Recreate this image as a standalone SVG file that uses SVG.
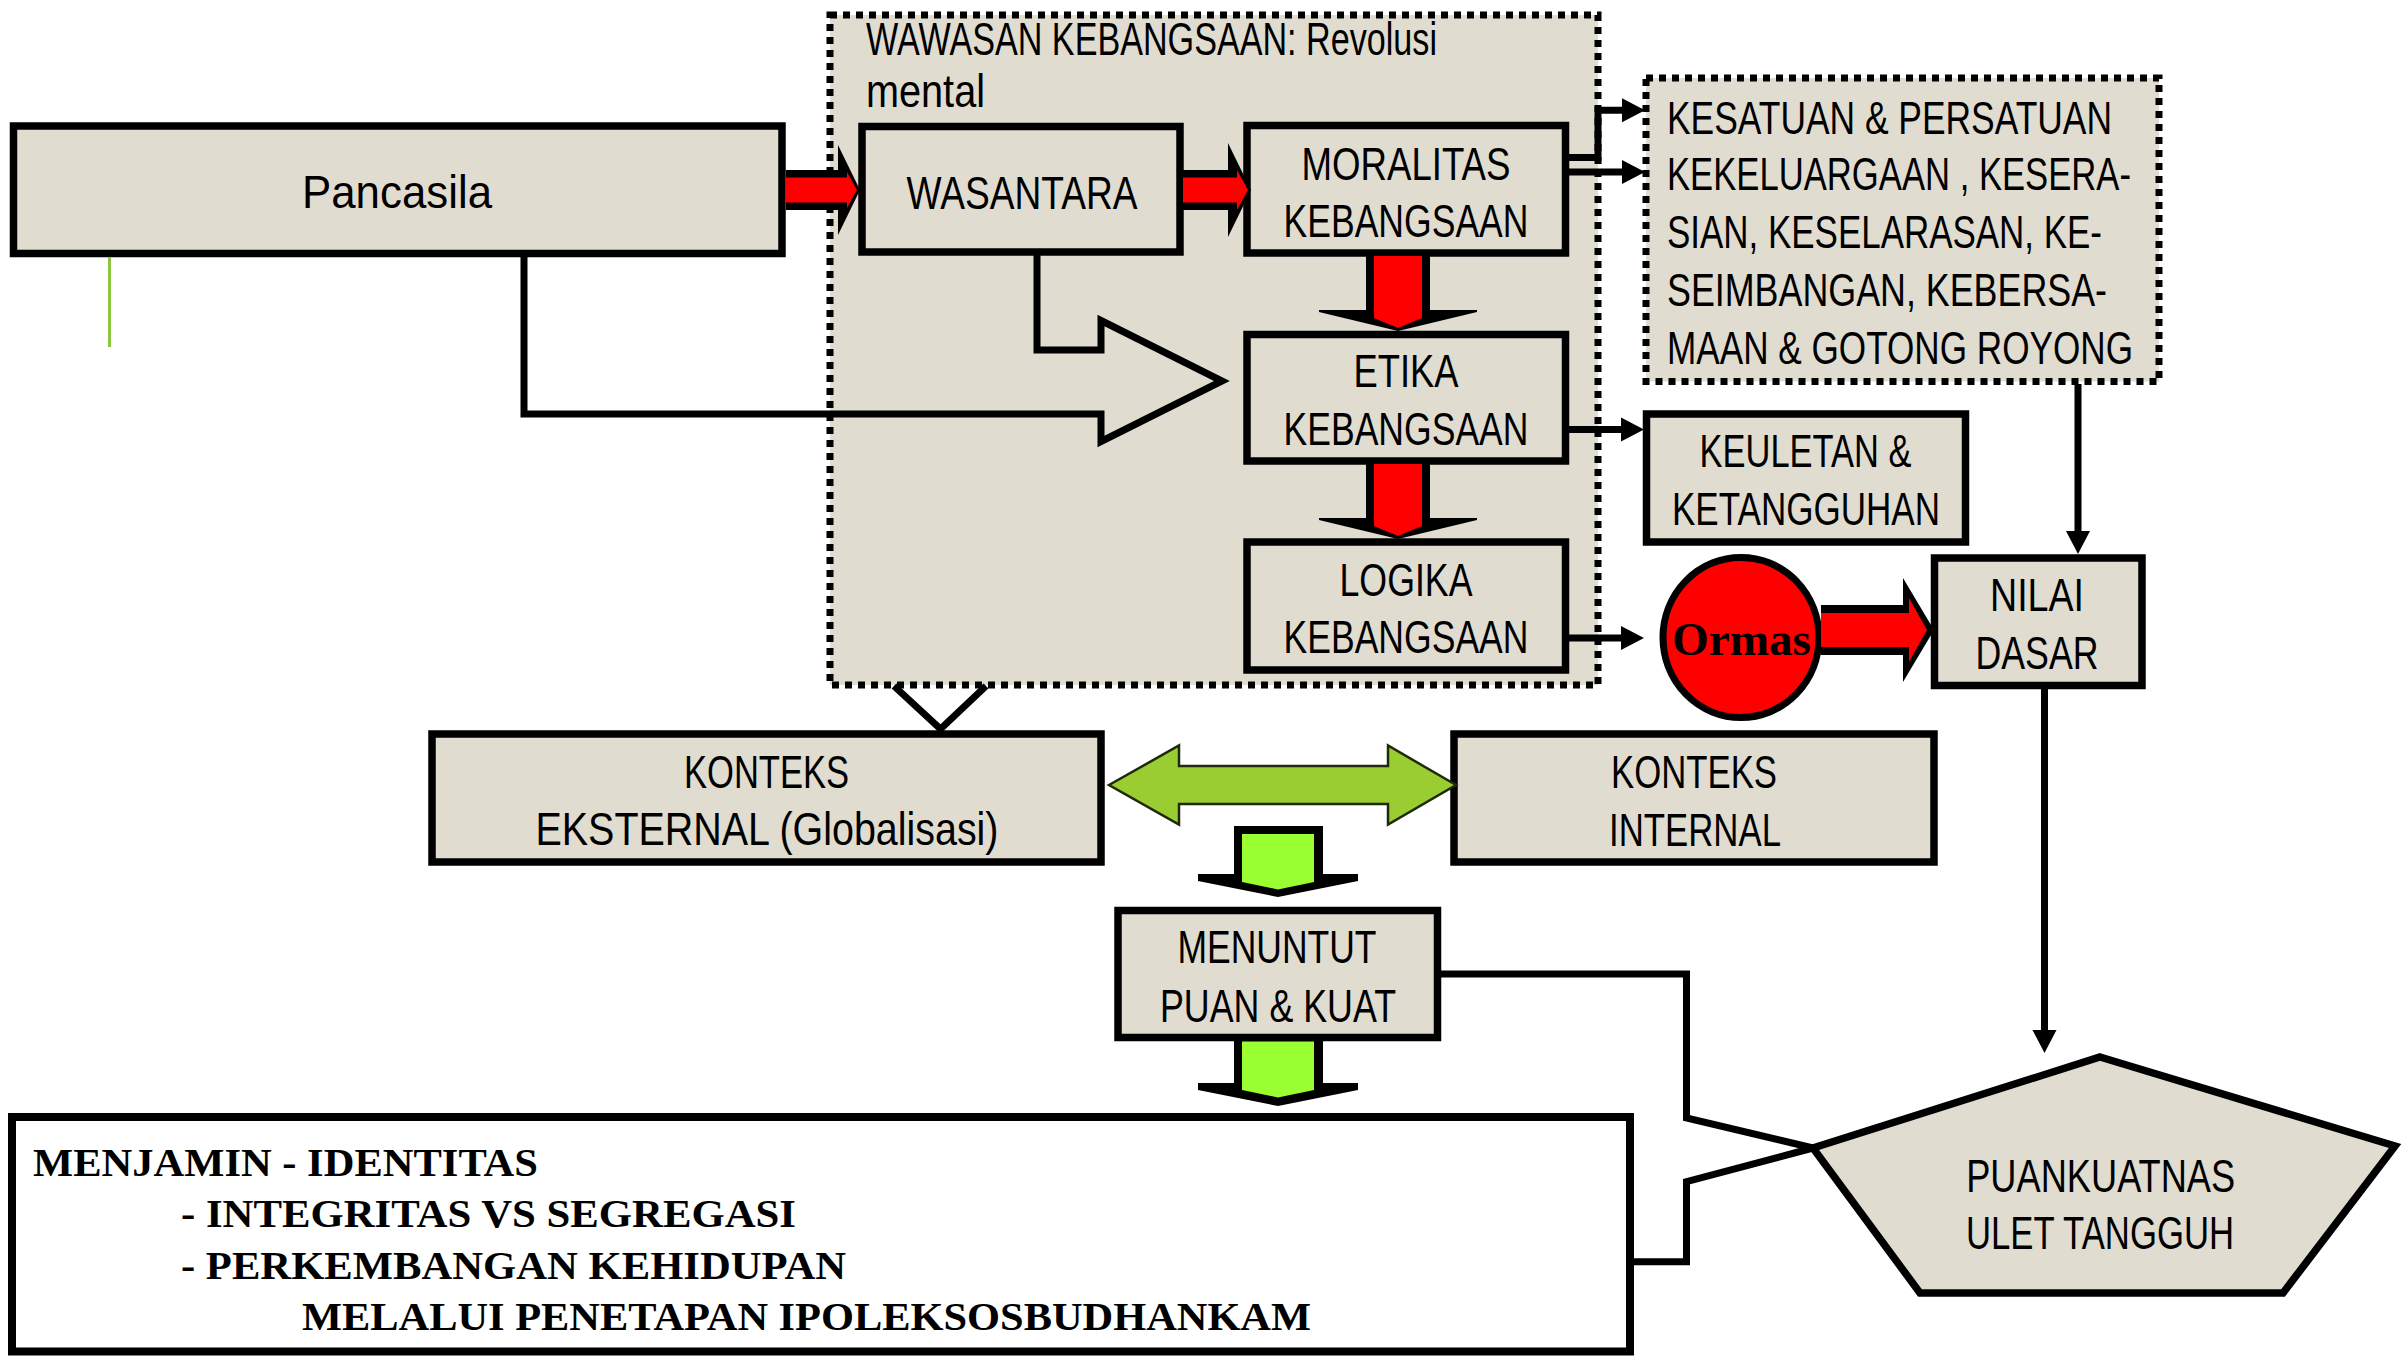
<svg xmlns="http://www.w3.org/2000/svg" width="2408" height="1357" viewBox="0 0 2408 1357">
  <defs>
    <style>
      .box { fill: #E1DCD0; stroke: #000; stroke-width: 7.5; }
      .dot { fill: #E1DCD0; stroke: #000; stroke-width: 7; stroke-dasharray: 7 6; }
      .plain { fill: #FFFFFF; stroke: #000; stroke-width: 8; }
      .lbl { font-family: "Liberation Sans", Arial, sans-serif; font-size: 46px; fill: #000; text-anchor: middle; }
      .lbl-l { font-family: "Liberation Sans", Arial, sans-serif; font-size: 46px; fill: #000; text-anchor: start; }
      .ser { font-family: "Liberation Serif", "Times New Roman", serif; font-weight: bold; fill: #000; }
      .ln { fill: none; stroke: #000; stroke-width: 7; stroke-linejoin: miter; }
      .lna { fill: none; stroke: #000; stroke-width: 7; marker-end: url(#head); }
      .blk { fill: #000; }
      .red { fill: #FF0000; }
      .lime { fill: #99FF33; }
    </style>
    <marker id="head" markerUnits="userSpaceOnUse" markerWidth="24" markerHeight="26" viewBox="0 -13 24 26" refX="0" refY="0" orient="auto" overflow="visible">
      <path d="M0,-12 L23,0 L0,12 Z" fill="#000"/>
    </marker>
  </defs>

  <rect width="2408" height="1357" fill="#FFFFFF"/>

  <!-- national outlook frame -->
  <g id="wawasan">
    <rect class="dot" x="830" y="15" width="768" height="670"/>
    <text class="lbl-l" x="866" y="55" font-size="40" textLength="571" lengthAdjust="spacingAndGlyphs">WAWASAN KEBANGSAAN: Revolusi</text>
    <text class="lbl-l" x="866" y="106.5" font-size="40" textLength="119" lengthAdjust="spacingAndGlyphs">mental</text>
  </g>

  <g id="pancasila">
    <rect class="box" x="13.5" y="126" width="768.5" height="127.5"/>
    <text class="lbl" x="397" y="208" textLength="190" lengthAdjust="spacingAndGlyphs">Pancasila</text>
  </g>

  <g id="wasantara">
    <rect class="box" x="862" y="126.5" width="318" height="125.5"/>
    <text class="lbl" x="1022" y="209" textLength="231" lengthAdjust="spacingAndGlyphs">WASANTARA</text>
  </g>

  <g id="moralitas">
    <rect class="box" x="1247" y="125.5" width="318.5" height="127.5"/>
    <text class="lbl" x="1406" y="180" textLength="209" lengthAdjust="spacingAndGlyphs">MORALITAS</text>
    <text class="lbl" x="1406" y="237" textLength="245" lengthAdjust="spacingAndGlyphs">KEBANGSAAN</text>
  </g>

  <g id="etika">
    <rect class="box" x="1247" y="334.5" width="318.5" height="126.5"/>
    <text class="lbl" x="1406" y="387" textLength="105" lengthAdjust="spacingAndGlyphs">ETIKA</text>
    <text class="lbl" x="1406" y="445" textLength="245" lengthAdjust="spacingAndGlyphs">KEBANGSAAN</text>
  </g>

  <g id="logika">
    <rect class="box" x="1247" y="542" width="318.5" height="128"/>
    <text class="lbl" x="1406" y="595.5" textLength="133" lengthAdjust="spacingAndGlyphs">LOGIKA</text>
    <text class="lbl" x="1406" y="653" textLength="245" lengthAdjust="spacingAndGlyphs">KEBANGSAAN</text>
  </g>

  <g id="kesatuan">
    <rect class="dot" x="1646" y="78" width="513" height="303.5"/>
    <text class="lbl-l" x="1667" y="133.7" textLength="445" lengthAdjust="spacingAndGlyphs">KESATUAN &amp; PERSATUAN</text>
    <text class="lbl-l" x="1667" y="190.4" textLength="464" lengthAdjust="spacingAndGlyphs">KEKELUARGAAN , KESERA-</text>
    <text class="lbl-l" x="1667" y="248.4" textLength="435" lengthAdjust="spacingAndGlyphs">SIAN, KESELARASAN, KE-</text>
    <text class="lbl-l" x="1667" y="305.5" textLength="440" lengthAdjust="spacingAndGlyphs">SEIMBANGAN, KEBERSA-</text>
    <text class="lbl-l" x="1667" y="363.6" textLength="466" lengthAdjust="spacingAndGlyphs">MAAN &amp; GOTONG ROYONG</text>
  </g>

  <g id="keuletan">
    <rect class="box" x="1646.5" y="414" width="319" height="128"/>
    <text class="lbl" x="1805.5" y="467" textLength="212" lengthAdjust="spacingAndGlyphs">KEULETAN &amp;</text>
    <text class="lbl" x="1806" y="525" textLength="268" lengthAdjust="spacingAndGlyphs">KETANGGUHAN</text>
  </g>

  <g id="ormas">
    <ellipse cx="1741" cy="637.5" rx="78" ry="80" fill="#FF0000" stroke="#000" stroke-width="7"/>
    <text class="ser" x="1741.5" y="655" font-size="47" text-anchor="middle" textLength="139" lengthAdjust="spacingAndGlyphs">Ormas</text>
  </g>

  <g id="nilai-dasar">
    <rect class="box" x="1934.5" y="558" width="207.5" height="127.5"/>
    <text class="lbl" x="2037" y="611" textLength="94" lengthAdjust="spacingAndGlyphs">NILAI</text>
    <text class="lbl" x="2037" y="669" textLength="123" lengthAdjust="spacingAndGlyphs">DASAR</text>
  </g>

  <g id="konteks-eksternal">
    <rect class="box" x="432" y="734" width="669" height="128"/>
    <text class="lbl" x="766.5" y="787.5" textLength="165" lengthAdjust="spacingAndGlyphs">KONTEKS</text>
    <text class="lbl" x="767" y="845" textLength="463" lengthAdjust="spacingAndGlyphs">EKSTERNAL (Globalisasi)</text>
  </g>

  <g id="konteks-internal">
    <rect class="box" x="1454" y="734" width="480" height="128"/>
    <text class="lbl" x="1694" y="788" textLength="166" lengthAdjust="spacingAndGlyphs">KONTEKS</text>
    <text class="lbl" x="1695" y="846" textLength="172" lengthAdjust="spacingAndGlyphs">INTERNAL</text>
  </g>

  <g id="menuntut">
    <rect class="box" x="1118" y="910.5" width="319.5" height="127"/>
    <text class="lbl" x="1277" y="963.3" textLength="199" lengthAdjust="spacingAndGlyphs">MENUNTUT</text>
    <text class="lbl" x="1278" y="1021.7" textLength="236" lengthAdjust="spacingAndGlyphs">PUAN &amp; KUAT</text>
  </g>

  <g id="menjamin">
    <rect class="plain" x="12" y="1117" width="1618" height="234.5"/>
    <text class="ser" x="33" y="1176" font-size="41" textLength="505" lengthAdjust="spacingAndGlyphs">MENJAMIN - IDENTITAS</text>
    <text class="ser" x="181" y="1226.7" font-size="41" textLength="615" lengthAdjust="spacingAndGlyphs">- INTEGRITAS VS SEGREGASI</text>
    <text class="ser" x="181" y="1279.3" font-size="41" textLength="665" lengthAdjust="spacingAndGlyphs">- PERKEMBANGAN KEHIDUPAN</text>
    <text class="ser" x="302" y="1330" font-size="41" textLength="1009" lengthAdjust="spacingAndGlyphs">MELALUI PENETAPAN IPOLEKSOSBUDHANKAM</text>
  </g>

  <g id="puankuatnas">
    <polygon points="2100,1057 2395,1146 2283,1293 1920,1293 1813,1148" fill="#E1DCD0" stroke="#000" stroke-width="7.5" stroke-linejoin="miter"/>
    <text class="lbl" x="2100.7" y="1191.7" font-size="44" textLength="269" lengthAdjust="spacingAndGlyphs">PUANKUATNAS</text>
    <text class="lbl" x="2100" y="1249.3" font-size="44" textLength="268" lengthAdjust="spacingAndGlyphs">ULET TANGGUH</text>
  </g>

  <g id="connectors">
    <!-- stray accent under Pancasila -->
    <line x1="109.5" y1="257" x2="109.5" y2="347" stroke="#8DC63F" stroke-width="3"/>

    <!-- hollow arrow: Wasantara + Pancasila into Etika -->
    <path class="ln" d="M1037,253 V350 H1101 V320.5 L1222,381 L1101,441.5 V414 H524 V254"/>

    <!-- Pancasila -> Wasantara -->
    <path class="blk" d="M786,170 H838 V145 L860,190 L838,235 V210 H786 Z"/>
    <path class="red" d="M786,177.5 H847 V172 L857,190 L847,208 V202.5 H786 Z"/>

    <!-- Wasantara -> Moralitas -->
    <path class="blk" d="M1183,170 H1228 V143 L1251,190 L1228,237 V210 H1183 Z"/>
    <path class="red" d="M1183,177.5 H1237 V170 L1248,190 L1237,210 V202.5 H1183 Z"/>

    <!-- Moralitas -> Etika -->
    <path class="blk" d="M1366,256 H1430 V310 H1477 V312 L1398,331 L1319,312 V310 H1366 Z"/>
    <path class="red" d="M1374,256 H1422 V318 L1398,328 L1374,318 Z"/>

    <!-- Etika -> Logika -->
    <path class="blk" d="M1366,464 H1430 V518 H1477 V520 L1398,539 L1319,520 V518 H1366 Z"/>
    <path class="red" d="M1374,464 H1422 V526 L1398,536 L1374,526 Z"/>

    <!-- thin arrows to the right-hand column -->
    <path class="lna" d="M1569,157.5 H1598 V110.3 H1622"/>
    <path class="lna" d="M1569,172 H1622"/>
    <path class="lna" d="M1569,429.5 H1621"/>
    <path class="lna" d="M1569,638 H1621"/>

    <!-- Ormas -> Nilai Dasar -->
    <path class="blk" d="M1821,605 H1903 V578 L1934,630 L1903,682 V655 H1821 Z"/>
    <path class="red" d="M1821,613 H1909 V598 L1927,630 L1909,662 V647 H1821 Z"/>

    <!-- Kesatuan -> Nilai Dasar -> Puankuatnas -->
    <path class="lna" d="M2078,384 V531"/>
    <path class="lna" d="M2044.5,689 V1030"/>

    <!-- frame -> Konteks Eksternal -->
    <polyline class="ln" points="894,686 940.5,729 986,686"/>

    <!-- Konteks Eksternal <-> Konteks Internal -->
    <polygon points="1109,785 1179,745.5 1179,766 1388,766 1388,745.5 1456,785 1388,824.5 1388,804 1179,804 1179,824.5" fill="#9ACD32" stroke="#1E2A0A" stroke-width="2.5" stroke-linejoin="miter"/>

    <!-- down to Menuntut -->
    <path class="blk" d="M1234,826 H1323 V874 H1358 V881 L1278,897 L1198,881 V874 H1234 Z"/>
    <path class="lime" d="M1242,834 H1314 V882 L1278,889.5 L1242,882 Z"/>

    <!-- down to Menjamin -->
    <path class="blk" d="M1234,1034 H1323 V1083 H1358 V1090 L1278,1106 L1198,1090 V1083 H1234 Z"/>
    <path class="lime" d="M1242,1041.5 H1314 V1090 L1278,1097.5 L1242,1090 Z"/>

    <!-- Menuntut and Menjamin -> Puankuatnas -->
    <path class="ln" d="M1441,974 H1686.5 V1118 L1813,1148"/>
    <path class="ln" d="M1630,1261.7 H1690"/>
    <path class="ln" d="M1686.5,1265 V1181.7 L1813,1148"/>
  </g>
</svg>
